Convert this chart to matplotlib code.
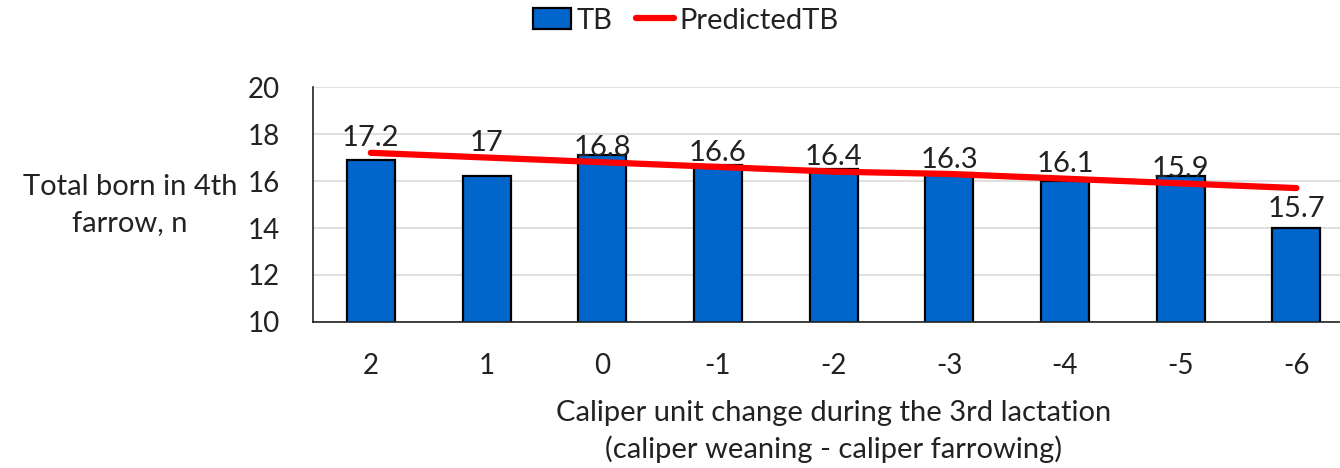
import matplotlib
matplotlib.use("Agg")
import matplotlib.pyplot as plt
import numpy as np

categories = ["2", "1", "0", "-1", "-2", "-3", "-4", "-5", "-6"]
tb = [16.9, 16.2, 17.1, 16.7, 16.5, 16.35, 16.0, 16.2, 14.0]
predicted = [17.2, 17.0, 16.8, 16.6, 16.4, 16.3, 16.1, 15.9, 15.7]
pred_labels = ["17.2", "17", "16.8", "16.6", "16.4", "16.3", "16.1", "15.9", "15.7"]

plt.rcParams['font.family'] = ['Lato', 'DejaVu Sans']

fig = plt.figure(figsize=(13.4, 4.68), dpi=100)
ax = fig.add_axes([0.2336, 0.312, 0.777, 0.502])

x = np.arange(len(categories))
bars = ax.bar(x, tb, width=0.415, bottom=0, color="#0066CC", edgecolor="black", linewidth=1.6,
              label="TB", zorder=2)
line, = ax.plot(x, predicted, color="#FF0000", linewidth=4.5, label="PredictedTB", zorder=3,
                solid_capstyle="round")

for i, (xv, yv, lab) in enumerate(zip(x, predicted, pred_labels)):
    if i == len(x) - 1:
        ax.annotate(lab, (xv, yv), xytext=(0, -6), textcoords="offset points",
                    ha="center", va="top", fontsize=21, color="#222222", zorder=4)
    else:
        ax.annotate(lab, (xv, yv), xytext=(0, 1), textcoords="offset points",
                    ha="center", va="bottom", fontsize=21, color="#222222", zorder=4)

ax.set_ylim(10, 20)
ax.set_yticks([10, 12, 14, 16, 18, 20])
ax.set_xlim(-0.5, len(x) - 0.5)
ax.set_xticks(x)
ax.set_xticklabels(categories)
ax.tick_params(axis="both", length=0, labelsize=20, colors="#222222")
ax.tick_params(axis="x", pad=22)
ax.tick_params(axis="y", pad=24)
ax.grid(axis="y", color="#D9D9D9", linewidth=1.2, zorder=0)
ax.set_axisbelow(True)
for s in ["top", "right"]:
    ax.spines[s].set_visible(False)
ax.spines["left"].set_color("#222222")
ax.spines["bottom"].set_color("#222222")
ax.spines["left"].set_linewidth(1.2)
ax.spines["bottom"].set_linewidth(1.2)

fig.text(0.097, 0.562, "Total born in 4th\nfarrow, n", ha="center", va="center",
         fontsize=21, color="#222222", linespacing=1.5)
ax.set_xlabel("Caliper unit change during the 3rd lactation\n(caliper weaning - caliper farrowing)",
              fontsize=21, color="#222222", labelpad=10, linespacing=1.45)
ax.xaxis.set_label_coords(0.50, -0.33)
ax.xaxis.label.set_va("top")

fig.legend([bars, line], ["TB", "PredictedTB"], loc="upper center",
           bbox_to_anchor=(0.512, 1.04), ncol=2, frameon=False,
           fontsize=21, handlelength=1.3, handletextpad=0.2, columnspacing=0.8,
           labelcolor="#222222")

fig.savefig("out.png", dpi=100)
